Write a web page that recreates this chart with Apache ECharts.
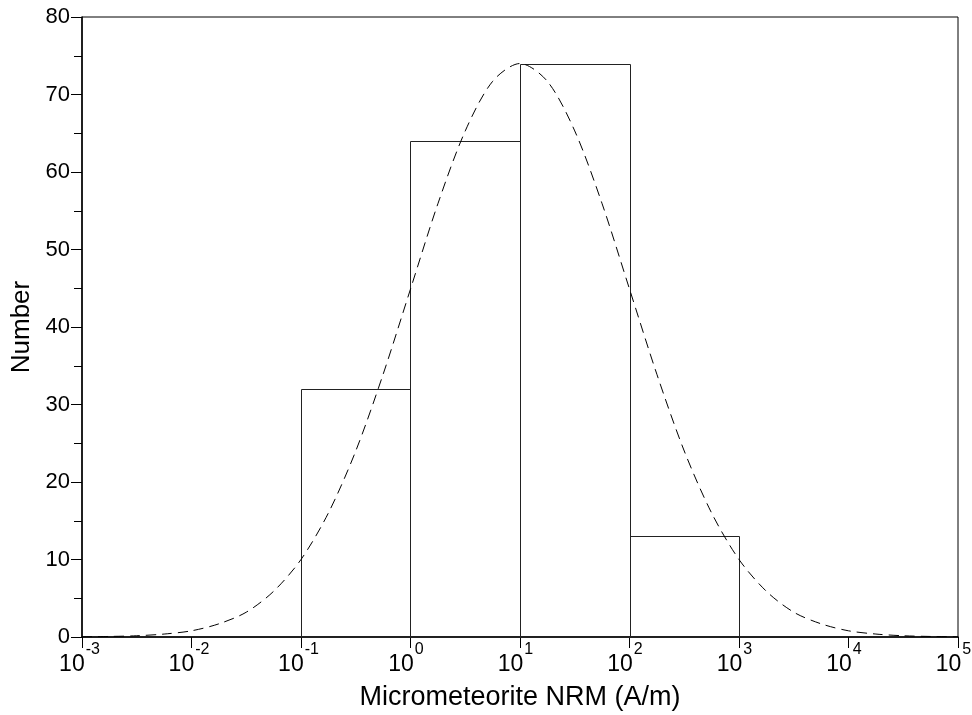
<!DOCTYPE html>
<html>
<head>
<meta charset="utf-8">
<script src="https://cdn.jsdelivr.net/npm/echarts@6/dist/echarts.min.js"></script>
<style>
html,body{margin:0;padding:0;background:#fff;}
#chart{width:972px;height:715px;}
</style>
</head>
<body>
<div id="chart"></div>
<script>
// Histogram bins (A/m): lower edge, upper edge, count
const binLow = [0.1, 1, 10, 100];
const binHigh = [1, 10, 100, 1000];
const binCount = [32, 64, 74, 13];

// Dashed fitted curve: x as decade exponent, y as number
const curveExp = [-3, -2.75, -2.5, -2.25, -2, -1.75, -1.5, -1.25, -1, -0.75, -0.5, -0.25,
  0, 0.25, 0.5, 0.75, 1, 1.25, 1.5, 1.75, 2, 2.25, 2.5, 2.75, 3, 3.25, 3.5, 3.75, 4,
  4.25, 4.5, 4.75, 5];
const curveY = [0.02, 0.07, 0.16, 0.38, 0.8, 1.7, 3.2, 5.9, 10, 16, 24, 33.9,
  44.9, 55.9, 65.3, 71.7, 74, 71.7, 65.3, 55.9, 44.9, 33.9, 24, 16, 10,
  5.9, 3.2, 1.7, 0.8, 0.38, 0.16, 0.07, 0.02];

const xMin = 0.001, xMax = 100000;
const yMin = 0, yMax = 80, yInterval = 10;
const xName = 'Micrometeorite NRM (A/m)';
const yName = 'Number';

const FONT = '"Liberation Sans", Arial, sans-serif';
const CLEAR = 'rgba(0,0,0,0)';

const barData = binLow.map((v, i) => [v, binHigh[i], binCount[i]]);
const curveData = curveExp.map((e, i) => [Math.pow(10, e), curveY[i]]);

const baseStyle = { fontFamily: FONT, fontSize: 23, lineHeight: 23 };
const expStyle = { fontFamily: FONT, fontSize: 16, lineHeight: 7 };

const chart = echarts.init(document.getElementById('chart'));
chart.setOption({
  animation: false,
  backgroundColor: '#fff',
  grid: {
    left: 82, right: 14, top: 17, bottom: 78,
    containLabel: false, outerBoundsMode: 'none',
    show: true, borderColor: '#000', borderWidth: 1, backgroundColor: 'transparent'
  },
  xAxis: {
    type: 'log', logBase: 10, min: xMin, max: xMax,
    name: xName, nameLocation: 'middle', nameGap: 47,
    nameTextStyle: { fontFamily: FONT, fontSize: 27, color: '#000' },
    axisLine: { show: true, lineStyle: { color: '#000', width: 1.5 } },
    axisTick: { show: true, inside: false, length: 11, lineStyle: { color: '#000', width: 1 } },
    minorTick: { show: false },
    splitLine: { show: false },
    axisLabel: {
      margin: 9,
      hideOverlap: false,
      formatter: function (v) {
        const e = String(Math.round(Math.log10(v)));
        const k = e.length > 1 ? '2' : '1';
        return '{s|10}{e' + k + '|' + e + '}\n{b|10}{t' + k + '|' + e + '}';
      },
      rich: {
        b: Object.assign({ color: '#000' }, baseStyle),
        s: { fontFamily: FONT, fontSize: 23, lineHeight: 7, color: CLEAR },
        e1: Object.assign({ color: '#000', padding: [0, 9, 0, 1] }, expStyle),
        e2: Object.assign({ color: '#000', padding: [0, 5, 0, 1] }, expStyle),
        t1: { fontFamily: FONT, fontSize: 16, lineHeight: 23, color: CLEAR, padding: [0, 9, 0, 1] },
        t2: { fontFamily: FONT, fontSize: 16, lineHeight: 23, color: CLEAR, padding: [0, 5, 0, 1] }
      }
    }
  },
  yAxis: {
    type: 'value', min: yMin, max: yMax, interval: yInterval,
    name: yName, nameLocation: 'middle', nameGap: 46,
    nameTextStyle: { fontFamily: FONT, fontSize: 26, color: '#000' },
    axisLine: { show: true, lineStyle: { color: '#000', width: 1.5 } },
    axisTick: { show: true, inside: false, length: 11, lineStyle: { color: '#000', width: 1 } },
    minorTick: { show: true, splitNumber: 2, length: 8, lineStyle: { color: '#000', width: 1 } },
    splitLine: { show: false },
    axisLabel: { margin: 12, fontFamily: FONT, fontSize: 22, color: '#000' }
  },
  series: [
    {
      type: 'custom',
      data: barData,
      encode: { x: [0, 1], y: 2 },
      renderItem: function (params, api) {
        const p0 = api.coord([api.value(0), 0]);
        const p1 = api.coord([api.value(1), api.value(2)]);
        const x0 = Math.round(p0[0]) + 0.5, x1 = Math.round(p1[0]) + 0.5;
        const y0 = Math.round(p0[1]) + 0.5, y1 = Math.round(p1[1]) + 0.5;
        return {
          type: 'rect',
          shape: { x: x0, y: y1, width: x1 - x0, height: y0 - y1 },
          style: { fill: 'none', stroke: '#222', lineWidth: 1 }
        };
      },
      z: 2
    },
    {
      type: 'line',
      data: curveData,
      smooth: 0.3,
      symbol: 'none',
      lineStyle: { color: '#000', width: 1, type: [10, 6] },
      z: 3
    }
  ]
});
</script>
</body>
</html>
